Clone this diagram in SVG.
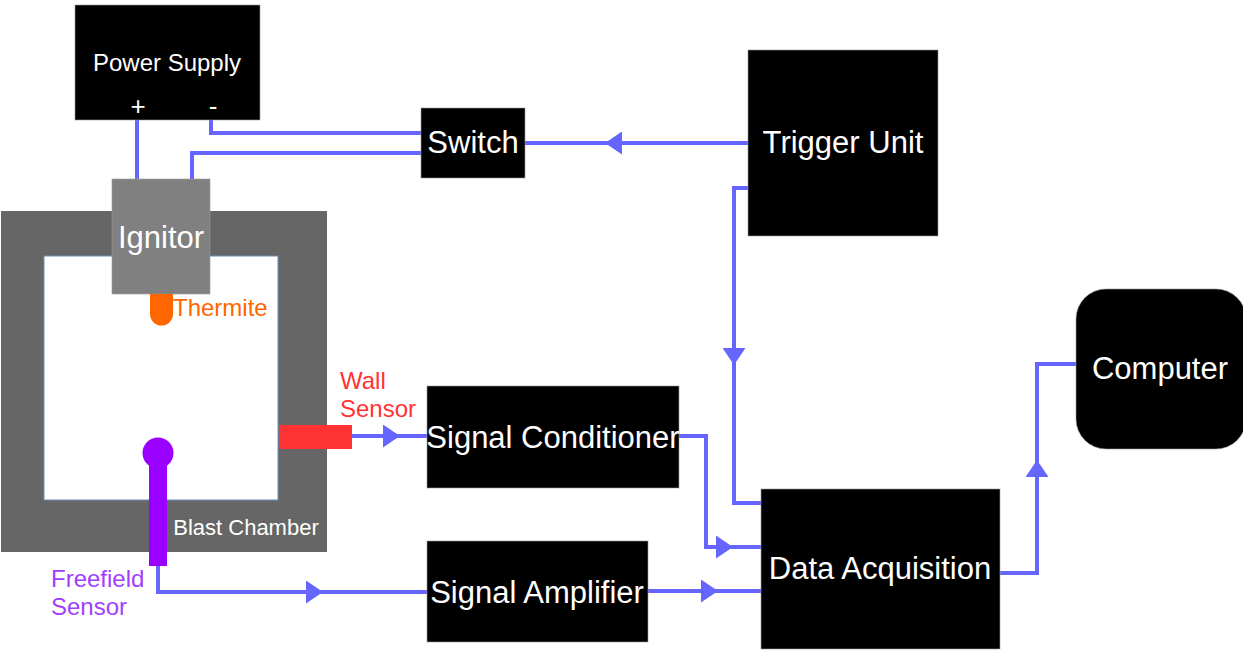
<svg xmlns="http://www.w3.org/2000/svg" width="1243" height="656" viewBox="0 0 1243 656">
<style>
.box{fill:#000;stroke:#999;stroke-width:0.6}
.lbl{font-family:"Liberation Sans",Arial,sans-serif;fill:#fff;text-anchor:middle;font-size:31px}
.wire{fill:none;stroke:#6666ff;stroke-width:4}
.side{font-family:"Liberation Sans",Arial,sans-serif;font-size:24px}
</style>
<defs>
<marker id="ar" viewBox="0 0 17 23" refX="17" refY="11.5" markerWidth="17" markerHeight="23" markerUnits="userSpaceOnUse" orient="auto">
<path d="M0,0 L17,11.5 L0,23 z" fill="#6666ff"/>
</marker>
</defs>
<rect width="1243" height="656" fill="#fff"/>
<g id="blast-chamber">
<rect x="1" y="211" width="326" height="341" fill="#666"/>
<rect x="44" y="256" width="234" height="244" fill="#fff" stroke="#6c8ebf" stroke-width="1"/>
<text x="246" y="535" class="lbl" style="font-size:22px" fill="#eee">Blast Chamber</text>
</g>
<g id="connectors">
<path class="wire" d="M137,120 V180"/>
<path class="wire" d="M211,120 V133 H421"/>
<path class="wire" d="M192,180 V153 H421"/>
<path class="wire" d="M748,143 H605" marker-end="url(#ar)"/>
<path class="wire" d="M605,143 H525"/>
<path class="wire" d="M748,188 H734 V365" marker-end="url(#ar)"/>
<path class="wire" d="M734,365 V503 H762"/>
<path class="wire" d="M352,436 H400" marker-end="url(#ar)"/>
<path class="wire" d="M400,436 H427"/>
<path class="wire" d="M679,436 H706 V547 H733" marker-end="url(#ar)"/>
<path class="wire" d="M733,547 H762"/>
<path class="wire" d="M158,566 V592 H323" marker-end="url(#ar)"/>
<path class="wire" d="M323,592 H427"/>
<path class="wire" d="M648,591 H718" marker-end="url(#ar)"/>
<path class="wire" d="M718,591 H762"/>
<path class="wire" d="M1000,573 H1037 V460" marker-end="url(#ar)"/>
<path class="wire" d="M1037,460 V364 H1076"/>
</g>
<g id="power-supply">
<rect class="box" x="75" y="5" width="185" height="115"/>
<text x="167" y="71" class="lbl" style="font-size:24px">Power Supply</text>
<text x="138" y="115" class="lbl" style="font-size:26px">+</text>
<text x="213" y="115" class="lbl" style="font-size:26px">-</text>
</g>
<g id="ignitor">
<rect x="112" y="179" width="98" height="115" fill="#808080" stroke="#999" stroke-width="0.6"/>
<text x="161" y="248" class="lbl">Ignitor</text>
</g>
<g id="thermite">
<path d="M150,294 H173 V314 A11.5,11.5 0 0 1 150,314 Z" fill="#ff6600"/>
<text x="173" y="316" class="side" fill="#ff6600">Thermite</text>
</g>
<g id="wall-sensor">
<rect x="279" y="425" width="73" height="24" fill="#ff3333"/>
<text class="side" fill="#ff3333"><tspan x="340" y="389">Wall</tspan><tspan x="340" y="417">Sensor</tspan></text>
</g>
<g id="freefield-sensor">
<rect x="149" y="453" width="18" height="113" fill="#9900ff"/>
<circle cx="158" cy="453" r="15.5" fill="#9900ff"/>
<text class="side" fill="#a040ff"><tspan x="51" y="587">Freefield</tspan><tspan x="51" y="615">Sensor</tspan></text>
</g>
<g id="switch">
<rect class="box" x="421" y="108" width="104" height="70"/>
<text x="473" y="153" class="lbl">Switch</text>
</g>
<g id="trigger-unit">
<rect class="box" x="748" y="50" width="190" height="186"/>
<text x="843" y="153" class="lbl">Trigger Unit</text>
</g>
<g id="signal-conditioner">
<rect class="box" x="427" y="386" width="252" height="102"/>
<text x="553" y="448" class="lbl">Signal Conditioner</text>
</g>
<g id="signal-amplifier">
<rect class="box" x="427" y="541" width="221" height="101"/>
<text x="537" y="603" class="lbl">Signal Amplifier</text>
</g>
<g id="data-acquisition">
<rect class="box" x="761" y="489" width="239" height="160"/>
<text x="880" y="579" class="lbl">Data Acquisition</text>
</g>
<g id="computer">
<rect class="box" x="1076" y="289" width="170" height="160" rx="30"/>
<text x="1160" y="379" class="lbl">Computer</text>
</g>
</svg>
